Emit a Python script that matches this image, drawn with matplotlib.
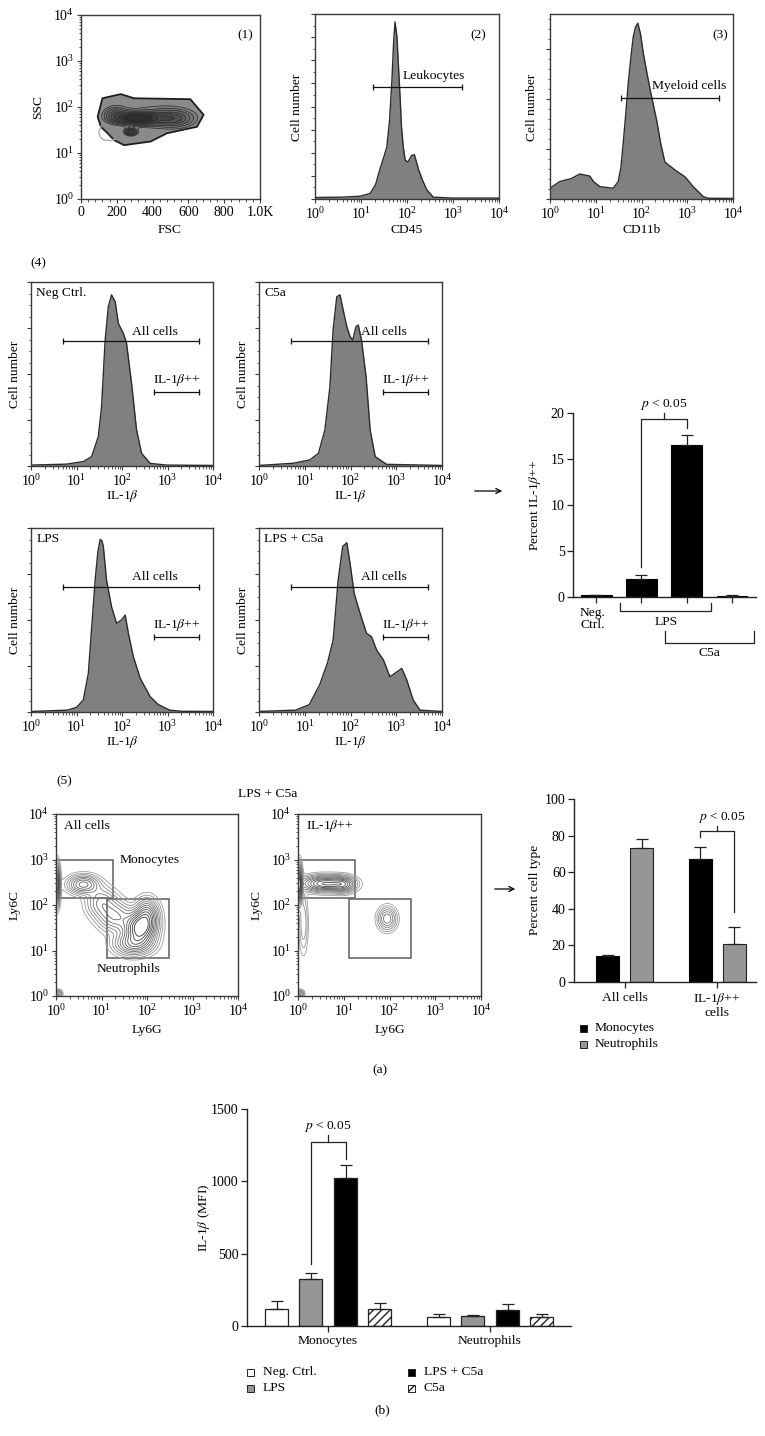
import numpy as np
import matplotlib
matplotlib.use('Agg')
import matplotlib.pyplot as plt
import matplotlib.transforms as mtransforms
from matplotlib.patches import Rectangle, FancyArrowPatch, Polygon
from matplotlib.ticker import LogLocator, NullFormatter, MultipleLocator

W, H = 765, 1436

# ---------------- data ----------------
# (2) CD45 histogram  (log10 intensity, relative cell number)
cd45_lx = [0.0, 0.6, 0.98, 1.2, 1.32, 1.41, 1.5, 1.56, 1.62, 1.67, 1.71, 1.74, 1.78, 1.81, 1.85, 1.88, 1.92,
           1.96, 2.02, 2.1, 2.16, 2.25, 2.34, 2.43, 2.57, 3.0, 4.0]
cd45_y = [0.008, 0.01, 0.015, 0.03, 0.08, 0.16, 0.23, 0.28, 0.42, 0.63, 0.85, 0.957, 0.88, 0.74, 0.55, 0.39,
          0.28, 0.21, 0.2, 0.235, 0.24, 0.16, 0.1, 0.05, 0.01, 0.005, 0.005]
cd45_gate = [1.25, 3.2, 0.607]

# (3) CD11b histogram
cd11b_lx = [0.0, 0.21, 0.46, 0.65, 0.87, 0.95, 1.09, 1.38, 1.49, 1.55, 1.6, 1.66, 1.71, 1.77, 1.82, 1.87, 1.92,
            1.98, 2.04, 2.12, 2.19, 2.33, 2.42, 2.51, 2.73, 2.95, 3.13, 3.35, 3.46, 4.0]
cd11b_y = [0.058, 0.094, 0.11, 0.135, 0.124, 0.094, 0.067, 0.058, 0.094, 0.17, 0.30, 0.47, 0.625, 0.77, 0.877,
           0.93, 0.95, 0.89, 0.787, 0.68, 0.589, 0.427, 0.3, 0.20, 0.157, 0.12, 0.067, 0.013, 0.004, 0.003]
cd11b_gate = [1.55, 3.69, 0.544]

# (4) IL-1beta histograms
neg_lx = [0.0, 0.78, 1.15, 1.33, 1.48, 1.55, 1.63, 1.70, 1.77, 1.85, 1.92, 2.03, 2.1, 2.21, 2.32, 2.43, 2.62, 2.98, 4.0]
neg_y = [0.005, 0.01, 0.024, 0.05, 0.16, 0.32, 0.685, 0.866, 0.93, 0.893, 0.775, 0.721, 0.667, 0.449, 0.196,
         0.069, 0.014, 0.005, 0.003]
c5a_lx = [0.0, 0.75, 1.11, 1.3, 1.44, 1.55, 1.62, 1.7, 1.77, 1.84, 1.92, 1.99, 2.05, 2.12, 2.17, 2.24, 2.34,
          2.43, 2.54, 2.79, 4.0]
c5a_y = [0.003, 0.015, 0.033, 0.069, 0.196, 0.43, 0.74, 0.92, 0.93, 0.848, 0.757, 0.703, 0.685, 0.757, 0.766,
         0.685, 0.486, 0.196, 0.051, 0.009, 0.003]
lps_lx = [0.0, 0.8, 1.0, 1.15, 1.26, 1.33, 1.41, 1.47, 1.52, 1.56, 1.59, 1.66, 1.77, 1.88, 1.99, 2.07, 2.14,
          2.25, 2.4, 2.62, 2.8, 3.05, 3.3, 4.0]
lps_y = [0.003, 0.01, 0.025, 0.065, 0.21, 0.446, 0.717, 0.87, 0.938, 0.93, 0.9, 0.717, 0.572, 0.482, 0.5,
         0.527, 0.428, 0.30, 0.183, 0.083, 0.04, 0.01, 0.004, 0.003]
lpsc5a_lx = [0.0, 0.8, 1.1, 1.33, 1.5, 1.62, 1.73, 1.83, 1.92, 1.99, 2.08, 2.21, 2.35, 2.46, 2.57, 2.72, 2.86,
             2.97, 3.12, 3.23, 3.37, 3.52, 4.0]
lpsc5a_y = [0.003, 0.01, 0.04, 0.15, 0.27, 0.39, 0.717, 0.9, 0.92, 0.808, 0.645, 0.536, 0.428, 0.409, 0.337,
            0.283, 0.192, 0.21, 0.237, 0.174, 0.065, 0.01, 0.003]
all_gate = [0.71, 3.69]
hi_gate = [2.71, 3.69]
gate_y = {'Neg Ctrl.': [0.679, 0.404], 'C5a': [0.679, 0.404],
          'LPS': [0.681, 0.409], 'LPS + C5a': [0.681, 0.409]}

# (1) FSC / SSC: outer gate outline (FSC, log10 SSC) and inner density clusters
p1_outline_x = [93, 120, 222, 296, 611, 685, 648, 481, 389, 241, 185, 148, 111]
p1_outline_y = [1.79, 2.19, 2.28, 2.19, 2.17, 1.83, 1.57, 1.43, 1.25, 1.17, 1.28, 1.43, 1.57]
p1_faint_x = [112, 100, 108, 130, 165, 190]
p1_faint_y = [1.58, 1.46, 1.34, 1.28, 1.27, 1.3]
p1_cx = [315, 278, 520, 190, 430]
p1_cy = [1.75, 1.46, 1.75, 1.85, 1.8]
p1_sx = [80, 22, 70, 45, 160]
p1_sy = [0.08, 0.05, 0.12, 0.12, 0.22]
p1_w = [1.0, 0.7, 0.4, 0.35, 0.22]

# (5) Ly6G / Ly6C density (log10 units)
all_cx = [0.02, 0.6, 1.0, 1.3, 1.85, 1.7, 2.0, 0.05]
all_cy = [2.45, 2.45, 2.05, 1.75, 1.5, 1.15, 1.8, 0.05]
all_sx = [0.04, 0.2, 0.2, 0.22, 0.2, 0.25, 0.15, 0.05]
all_sy = [0.25, 0.12, 0.2, 0.2, 0.2, 0.15, 0.2, 0.05]
all_w = [0.9, 0.5, 0.3, 0.35, 1.0, 0.5, 0.5, 0.3]
hi_cx = [0.02, 0.6, 1.0, 0.12, 1.95, 0.05]
hi_cy = [2.45, 2.47, 2.45, 1.6, 1.7, 0.05]
hi_sx = [0.04, 0.3, 0.15, 0.06, 0.12, 0.05]
hi_sy = [0.25, 0.1, 0.1, 0.4, 0.15, 0.05]
hi_w = [1.0, 0.8, 0.4, 0.15, 0.35, 0.3]
mono_gate = [1.0, 18.0, 145.0, 1000.0]
neut_gate = [13.0, 300.0, 6.8, 133.0]

# bar chart: percent IL-1b++
pct_il = [0.2, 2.0, 16.5, 0.15]
pct_il_err = [0.05, 0.4, 1.1, 0.05]

# bar chart: percent cell type
ct_groups = ['All cells', 'IL-1$\\beta$++\ncells']
ct_mono = [14, 67]
ct_mono_err = [1, 7]
ct_neut = [73, 21]
ct_neut_err = [5, 9]

# (b) IL-1b MFI
mfi_groups = ['Monocytes', 'Neutrophils']
mfi_series = ['Neg. Ctrl.', 'LPS', 'LPS + C5a', 'C5a']
mfi_neg = [115, 62]
mfi_neg_err = [60, 21]
mfi_lps = [323, 71]
mfi_lps_err = [41, 5]
mfi_lpsc5a = [1023, 110]
mfi_lpsc5a_err = [88, 40]
mfi_c5a = [115, 62]
mfi_c5a_err = [42, 21]

# ---------------- style ----------------
plt.rcParams.update({
    'font.family': 'serif',
    'font.serif': ['Liberation Serif', 'DejaVu Serif'],
    'mathtext.fontset': 'stix',
    'font.size': 9.7,
    'axes.linewidth': 1.0,
})

fig = plt.figure(figsize=(W / 100, H / 100), dpi=100)
pix = mtransforms.Affine2D().scale(1, -1).translate(0, H)


def add_ax(l, t, r, b):
    return fig.add_axes([l / W, 1 - b / H, (r - l) / W, (b - t) / H])


def ftext(x, y, s, **kw):
    kw.setdefault('ha', 'center')
    kw.setdefault('va', 'center')
    fig.text(x / W, 1 - y / H, s, **kw)


def flow_frame(ax, logx=True, logy=False):
    for sp in ax.spines.values():
        sp.set_color('#3a3a3a')
    ax.tick_params(which='both', direction='out', top=False, right=False, color='#3a3a3a')
    ax.tick_params(which='major', length=3, pad=2, labelsize=10)
    ax.tick_params(which='minor', length=1.8)
    if logx:
        ax.set_xscale('log')
        ax.set_xlim(1, 1e4)
        ax.xaxis.set_major_locator(LogLocator(base=10, numticks=10))
        ax.xaxis.set_minor_locator(LogLocator(base=10, subs=np.arange(2, 10), numticks=10))
        ax.xaxis.set_minor_formatter(NullFormatter())
    if logy:
        ax.set_yscale('log')
        ax.set_ylim(1, 1e4)
        ax.yaxis.set_major_locator(LogLocator(base=10, numticks=10))
        ax.yaxis.set_minor_locator(LogLocator(base=10, subs=np.arange(2, 10), numticks=10))
        ax.yaxis.set_minor_formatter(NullFormatter())


def histo(ax, lx, y):
    x = 10 ** np.asarray(lx)
    ax.fill_between(x, y, color='#808080', lw=0)
    ax.plot(x, y, color='#2b2b2b', lw=1.0)
    ax.set_ylim(0, 1)
    ax.set_yticks(np.arange(0, 1.01, 0.25))
    ax.yaxis.set_minor_locator(MultipleLocator(0.0625))
    ax.set_yticklabels([])


def gate(ax, a, b, y):
    ax.plot([10 ** a, 10 ** b], [y, y], color='#111111', lw=0.9, marker='|', ms=5, mew=0.9)


def density(gx, gy, cx, cy, sx, sy, w):
    z = np.zeros_like(gx)
    for i in range(len(cx)):
        z += w[i] * np.exp(-0.5 * ((gx - cx[i]) / sx[i]) ** 2 - 0.5 * ((gy - cy[i]) / sy[i]) ** 2)
    return z


# ---------------- (1) FSC / SSC ----------------
ax1 = add_ax(81, 15, 260, 199)
flow_frame(ax1, logx=False, logy=True)
ax1.plot(p1_faint_x, 10 ** np.asarray(p1_faint_y), color='#b0b0b0', lw=1.0)
outline = Polygon(np.column_stack([p1_outline_x, 10 ** np.asarray(p1_outline_y)]), closed=True,
                  fc='#8a8a8a', ec='#1e1e1e', lw=1.3, joinstyle='round')
ax1.add_patch(outline)
gx, gy = np.meshgrid(np.linspace(0, 1000, 300), np.linspace(0, 4, 300))
z1 = density(gx, gy, p1_cx, p1_cy, p1_sx, p1_sy, p1_w)
lv = [0.15, 0.22, 0.3, 0.4, 0.5, 0.62, 0.75, 0.88]
cf = ax1.contourf(gx, 10 ** gy, z1, levels=lv + [5], colors=[str(v) for v in np.linspace(0.5, 0.18, len(lv))])
cl = ax1.contour(gx, 10 ** gy, z1, levels=lv, colors='#2a2a2a', linewidths=0.5)
cf.set_clip_path(outline)
cl.set_clip_path(outline)
ax1.set_xlim(0, 1000)
ax1.set_xticks([0, 200, 400, 600, 800, 1000])
ax1.set_xticklabels(['0', '200', '400', '600', '800', '1.0K'])
ax1.xaxis.set_minor_locator(MultipleLocator(40))
ftext(245, 35, '(1)')
ftext(170, 230, 'FSC')
ftext(38, 107, 'SSC', rotation=90)

# ---------------- (2) CD45 ----------------
ax2 = add_ax(315, 14, 499, 199)
flow_frame(ax2)
histo(ax2, cd45_lx, cd45_y)
ax2.set_yticks(np.arange(0, 1.01, 0.125))
ax2.yaxis.set_minor_locator(MultipleLocator(0.0625))
ax2.set_yticklabels([])
gate(ax2, *cd45_gate)
ftext(403, 76, 'Leukocytes', ha='left')
ftext(478, 35, '(2)')
ftext(407, 230, 'CD45')
ftext(297, 107, 'Cell number', rotation=90)

# ---------------- (3) CD11b ----------------
ax3 = add_ax(550, 14, 733, 199)
flow_frame(ax3)
histo(ax3, cd11b_lx, cd11b_y)
ax3.set_yticks([0, 0.27, 0.54, 0.81])
ax3.yaxis.set_minor_locator(MultipleLocator(0.054))
ax3.set_yticklabels([])
gate(ax3, *cd11b_gate)
ftext(652, 86, 'Myeloid cells', ha='left')
ftext(720, 35, '(3)')
ftext(642, 230, 'CD11b')
ftext(532, 107, 'Cell number', rotation=90)

# ---------------- (4) IL-1b histograms ----------------
ftext(38, 263, '(4)')
panels4 = [('Neg Ctrl.', neg_lx, neg_y, (31, 282, 213, 466)),
           ('C5a', c5a_lx, c5a_y, (259, 282, 442, 466)),
           ('LPS', lps_lx, lps_y, (31, 528, 213, 712)),
           ('LPS + C5a', lpsc5a_lx, lpsc5a_y, (259, 528, 442, 712))]
for name, lx, y, (l, t, r, b) in panels4:
    ax = add_ax(l, t, r, b)
    flow_frame(ax)
    histo(ax, lx, y)
    gy_all, gy_hi = gate_y[name]
    gate(ax, all_gate[0], all_gate[1], gy_all)
    gate(ax, hi_gate[0], hi_gate[1], gy_hi)
    ax.text(10 ** 0.12, 0.94, name, ha='left', va='center')
    ax.text(10 ** 2.72, gy_all + 0.05, 'All cells', ha='center', va='center')
    ax.text(10 ** 3.2, gy_hi + 0.065, 'IL-1$\\beta$++', ha='center', va='center')
    ftext((l + r) / 2, b + 30, 'IL-1$\\beta$')
    ftext(l - 16, (t + b) / 2, 'Cell number', rotation=90)

# arrow to bar chart
fig.add_artist(FancyArrowPatch((472 / W, 1 - 491 / H), (505 / W, 1 - 491 / H), transform=fig.transFigure,
                               arrowstyle='->', mutation_scale=9, lw=0.9, color='k'))


def bar_frame(ax):
    ax.spines['top'].set_visible(False)
    ax.spines['right'].set_visible(False)
    for sp in ax.spines.values():
        sp.set_color('#222222')
    ax.tick_params(direction='out', length=4, width=0.9, pad=2, labelsize=10, color='#222222')


# ---------------- percent IL-1b++ ----------------
axa = add_ax(573, 413, 756, 597)
bar_frame(axa)
xa = np.arange(len(pct_il))
axa.bar(xa, pct_il, width=0.68, color='k', edgecolor='k', lw=0.8,
        yerr=np.vstack([np.zeros(len(pct_il)), pct_il_err]),
        error_kw=dict(ecolor='#222222', elinewidth=0.9, capsize=4.5, capthick=0.9))
axa.set_xlim(-0.51, 3.53)
axa.set_ylim(0, 20)
axa.set_yticks([0, 5, 10, 15, 20])
axa.set_xticks(xa)
axa.set_xticklabels([])
axa.plot([1, 1, 2, 2], [3.3, 19.3, 19.3, 18.4], color='#222222', lw=0.9, clip_on=False)
axa.plot([1.5, 1.5], [19.3, 20.0], color='#222222', lw=0.9, clip_on=False)
axa.text(1.5, 20.9, '$p$ < 0.05', ha='center', va='center')
bt = mtransforms.blended_transform_factory(axa.transData, pix)
axa.plot([0.53, 0.53, 2.53, 2.53], [603, 611, 611, 603], transform=bt, color='#222222', lw=0.9, clip_on=False)
axa.plot([1.51, 1.51, 3.49, 3.49], [631, 643, 643, 631], transform=bt, color='#222222', lw=0.9, clip_on=False)
ftext(593, 619, 'Neg.\nCtrl.', linespacing=0.95)
ftext(666, 622, 'LPS')
ftext(709, 653, 'C5a')
ftext(535, 505, 'Percent IL-1$\\beta$++', rotation=90)

# ---------------- (5) Ly6G / Ly6C ----------------
ftext(64, 781, '(5)')
ftext(268, 794, 'LPS + C5a')
lgx, lgy = np.meshgrid(np.linspace(0, 4, 260), np.linspace(0, 4, 260))
lvl5 = [0.03, 0.06, 0.1, 0.15, 0.21, 0.28, 0.36, 0.45, 0.55, 0.66, 0.78, 0.9]
cols5 = [str(v) for v in np.linspace(0.62, 0.2, len(lvl5))]
panels5 = [('All cells', (all_cx, all_cy, all_sx, all_sy, all_w), (56, 814, 238, 996)),
           ('IL-1$\\beta$++', (hi_cx, hi_cy, hi_sx, hi_sy, hi_w), (298, 814, 481, 996))]
for name, comps, (l, t, r, b) in panels5:
    ax = add_ax(l, t, r, b)
    flow_frame(ax, logx=True, logy=True)
    z = density(lgx, lgy, *comps)
    ax.contour(10 ** lgx, 10 ** lgy, z, levels=lvl5, colors=cols5, linewidths=0.6)
    ax.add_patch(Rectangle((mono_gate[0], mono_gate[2]), mono_gate[1] - mono_gate[0],
                           mono_gate[3] - mono_gate[2], fill=False, ec='#6a6a6a', lw=1.2))
    ax.add_patch(Rectangle((neut_gate[0], neut_gate[2]), neut_gate[1] - neut_gate[0],
                           neut_gate[3] - neut_gate[2], fill=False, ec='#6a6a6a', lw=1.2))
    ax.set_xlim(1, 1e4)
    ax.set_ylim(1, 1e4)
    ax.text(10 ** 0.18, 10 ** 3.74, name, ha='left', va='center')
    ftext((l + r) / 2, 1030, 'Ly6G')
    ftext(l - 41, (t + b) / 2, 'Ly6C', rotation=90)
    if name == 'All cells':
        ax.text(10 ** 1.39, 10 ** 3.0, 'Monocytes', ha='left', va='center')
        ax.text(10 ** 1.59, 10 ** 0.59, 'Neutrophils', ha='center', va='center')

fig.add_artist(FancyArrowPatch((492 / W, 1 - 889 / H), (518 / W, 1 - 889 / H), transform=fig.transFigure,
                               arrowstyle='->', mutation_scale=9, lw=0.9, color='k'))

# ---------------- percent cell type ----------------
axc = add_ax(574, 799, 756, 982)
bar_frame(axc)
xc = np.arange(len(ct_groups))
axc.bar(xc - 0.185, ct_mono, width=0.25, color='k', edgecolor='k', lw=0.8,
        yerr=np.vstack([np.zeros(2), ct_mono_err]),
        error_kw=dict(ecolor='#222222', elinewidth=0.9, capsize=4, capthick=0.9))
axc.bar(xc + 0.185, ct_neut, width=0.25, color='#969696', edgecolor='#222222', lw=0.8,
        yerr=np.vstack([np.zeros(2), ct_neut_err]),
        error_kw=dict(ecolor='#222222', elinewidth=0.9, capsize=4, capthick=0.9))
axc.set_xlim(-0.55, 1.42)
axc.set_ylim(0, 100)
axc.set_yticks([0, 20, 40, 60, 80, 100])
axc.set_xticks(xc)
axc.set_xticklabels([])
axc.plot([0.815, 0.815, 1.185, 1.185], [79, 82.5, 82.5, 38], color='#222222', lw=0.9, clip_on=False)
axc.plot([1.0, 1.0], [82.5, 85], color='#222222', lw=0.9, clip_on=False)
axc.text(1.05, 90, '$p$ < 0.05', ha='center', va='center')
ftext(625, 998, ct_groups[0])
ftext(717, 1005, ct_groups[1], linespacing=0.95)
ftext(535, 890, 'Percent cell type', rotation=90)
for i, (lab, col) in enumerate([('Monocytes', 'k'), ('Neutrophils', '#969696')]):
    y = 1028 + 16 * i
    fig.add_artist(Rectangle(((583 - 3.5) / W, 1 - (y + 3.5) / H), 7 / W, 7 / H, transform=fig.transFigure,
                             fc=col, ec='#222222', lw=0.7))
    ftext(595, y, lab, ha='left')

ftext(380, 1070, '(a)')

# ---------------- (b) IL-1b MFI ----------------
axb = add_ax(247, 1109, 571, 1326)
bar_frame(axb)
xb = np.arange(len(mfi_groups))
mfi_vals = [mfi_neg, mfi_lps, mfi_lpsc5a, mfi_c5a]
mfi_errs = [mfi_neg_err, mfi_lps_err, mfi_lpsc5a_err, mfi_c5a_err]
mfi_fc = ['white', '#969696', 'black', 'white']
mfi_hatch = [None, None, None, '////']
offs = [-0.315, -0.105, 0.11, 0.32]
for v, e, fc, ht, o in zip(mfi_vals, mfi_errs, mfi_fc, mfi_hatch, offs):
    axb.bar(xb + o, v, width=0.142, color=fc, edgecolor='#222222', lw=0.9, hatch=ht,
            yerr=np.vstack([np.zeros(2), e]),
            error_kw=dict(ecolor='#222222', elinewidth=0.9, capsize=4, capthick=0.9))
axb.set_xlim(-0.5, 1.5)
axb.set_ylim(0, 1500)
axb.set_yticks([0, 500, 1000, 1500])
axb.set_xticks(xb)
axb.set_xticklabels([])
axb.plot([-0.105, -0.105, 0.11, 0.11], [428, 1272, 1272, 1154], color='#222222', lw=0.9, clip_on=False)
axb.plot([0.0, 0.0], [1272, 1320], color='#222222', lw=0.9, clip_on=False)
axb.text(0.0, 1378, '$p$ < 0.05', ha='center', va='center')
ftext(328, 1341, mfi_groups[0])
ftext(490, 1341, mfi_groups[1])
ftext(204, 1218, 'IL-1$\\beta$ (MFI)', rotation=90)
leg_xy = [(250, 1372), (250, 1388), (411, 1372), (411, 1388)]
for lab, fc, ht, (x, y) in zip(mfi_series, mfi_fc, mfi_hatch, leg_xy):
    fig.add_artist(Rectangle(((x - 3.5) / W, 1 - (y + 3.5) / H), 7 / W, 7 / H, transform=fig.transFigure,
                             fc=fc, ec='#222222', lw=0.7, hatch=ht))
    ftext(x + 13, y, lab, ha='left')
ftext(382, 1410, '(b)')

fig.savefig('out.png', dpi=100)
